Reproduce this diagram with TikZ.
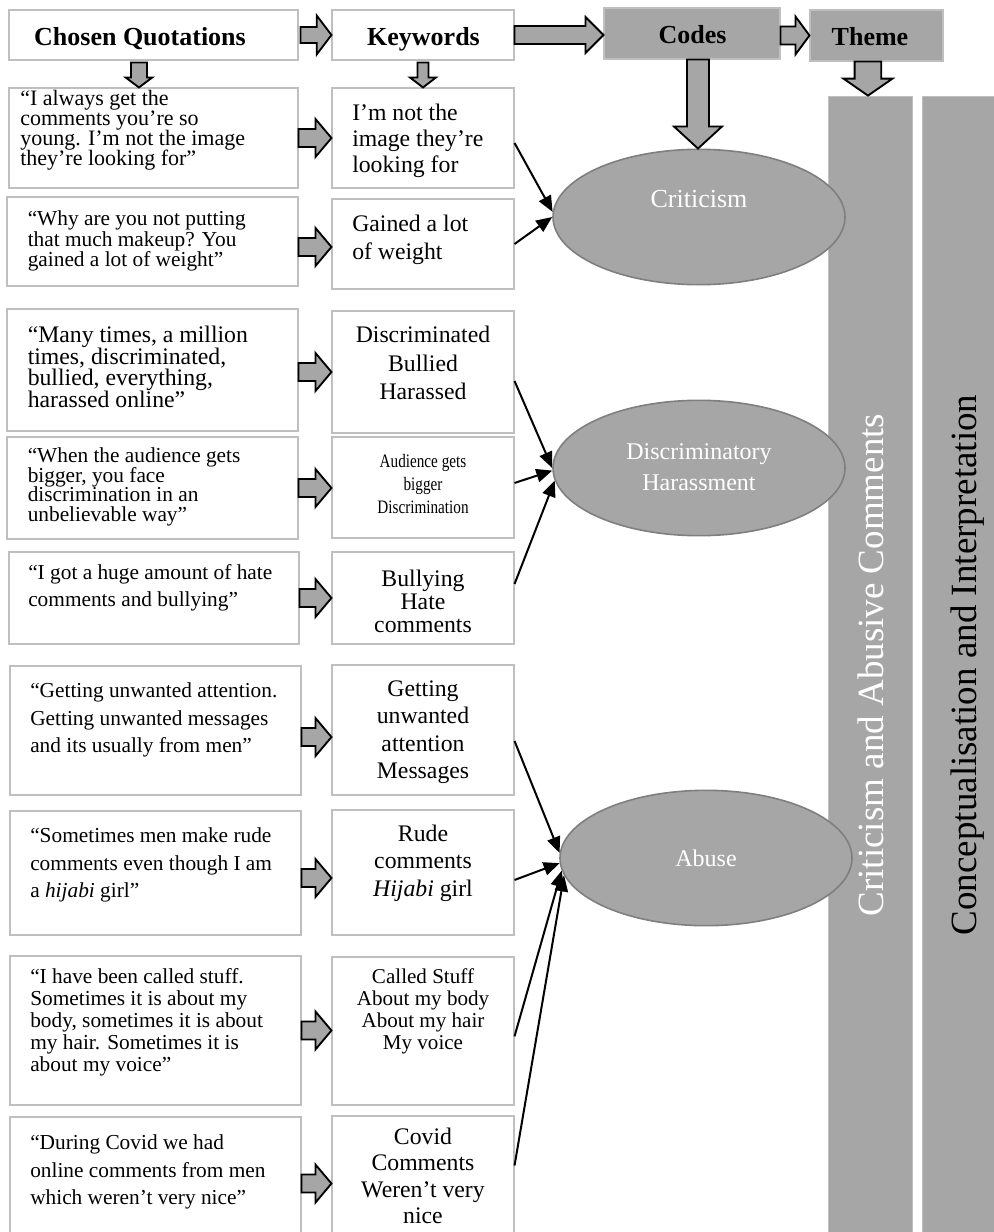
\documentclass[tikz,border=0pt]{standalone}
\usepackage{fontspec}
\usepackage{graphicx}
\setmainfont{Liberation Serif}
\usetikzlibrary{arrows.meta,shapes.geometric,fit,calc}

\definecolor{panel}{HTML}{A6A6A6}
\definecolor{boxline}{HTML}{BFBFBF}
\definecolor{ellline}{HTML}{7F7F7F}

% font size / baseline skip, allowing tight line spacing
\newcommand\txtsize[2]{\fontsize{#1pt}{#2pt}\selectfont\lineskiplimit=-100pt\relax}

% fat outlined arrow pointing right: start, target, half shaft, half head, head length
\newcommand\blockright[5]{%
  \draw[blockarrow] let \p1=#1, \p2=#2 in
    (\x1,\y1+#3) -- (\x2-#5,\y1+#3) -- (\x2-#5,\y1+#4) -- (\x2,\y1)
    -- (\x2-#5,\y1-#4) -- (\x2-#5,\y1-#3) -- (\x1,\y1-#3) -- cycle;}
% fat outlined arrow pointing down: start, target, half shaft, half head, head length
\newcommand\blockdown[5]{%
  \draw[blockarrow] let \p1=#1, \p2=#2 in
    (\x1-#3,\y1) -- (\x1-#3,\y2+#5) -- (\x1-#4,\y2+#5) -- (\x1,\y2)
    -- (\x1+#4,\y2+#5) -- (\x1+#3,\y2+#5) -- (\x1+#3,\y1) -- cycle;}

\begin{document}
\begin{tikzpicture}[x=0.75pt,y=-0.75pt,
  box/.style={draw=boxline,line width=0.8pt,fill=white,inner sep=0pt},
  graybox/.style={draw=boxline,line width=0.8pt,fill=panel,inner sep=0pt},
  bar/.style={draw=boxline,line width=0.6pt,fill=panel,inner sep=0pt},
  code/.style={ellipse,draw=ellline,line width=1.2pt,fill=panel,
    minimum width=219pt,minimum height=101.5pt,inner sep=0pt},
  blockarrow/.style={draw=black,line width=1.4pt,fill=panel,line join=miter},
  link/.style={line width=1.5pt,-{Triangle[length=12pt,width=10pt]}},
  head/.style={inner sep=0pt,anchor=base,font=\txtsize{19.5}{22}\bfseries},
  qt/.style={inner sep=0pt,anchor=west,align=left},
  ktl/.style={inner sep=0pt,anchor=west,align=left},
  kt/.style={inner sep=0pt,align=center},
  elltext/.style={inner sep=0pt,text=white,align=center},
  vtext/.style={inner sep=0pt,rotate=90,anchor=base,font=\txtsize{27.75}{30}}]

\useasboundingbox (0,0) rectangle (994,1232);
\clip (0,0) rectangle (994,1232);

% theme columns
\node[bar,fit={(828,96)(912,1245)}] (bar1) {};
\node[bar,fit={(922,96)(1006,1245)}] (bar2) {};

% header row
\node[box,fit={(9,10)(298,60)}] (qh) {};
\node[box,fit={(332,10)(514,60)}] (kh) {};
\node[graybox,fit={(604,8)(780,59)}] (codes) {};
\node[graybox,fit={(810,10)(943,61)}] (theme) {};
\node[head] (qht) at (140,45) {Chosen Quotations};
\node[head] (kht) at (423.5,45) {Keywords};
\node[head] (codest) at (692.5,43) {Codes};
\node[head] (themet) at (870,45) {Theme};

% quotation boxes
\node[box,fit={(9,88)(298,188)}] (q1) {};
\node[box,fit={(7,197)(298,286)}] (q2) {};
\node[box,fit={(7,309)(298,431)}] (q3) {};
\node[box,fit={(7,437)(298,539)}] (q4) {};
\node[box,fit={(9,552)(299,644)}] (q5) {};
\node[box,fit={(10,666)(301,795)}] (q6) {};
\node[box,fit={(10,811)(301,935)}] (q7) {};
\node[box,fit={(10,956)(301,1105)}] (q8) {};
\node[box,fit={(10,1117)(301,1245)}] (q9) {};

% keyword boxes
\node[box,fit={(332,88)(514,188)}] (k1) {};
\node[box,fit={(332,199)(514,289)}] (k2) {};
\node[box,fit={(332,311)(514,433)}] (k3) {};
\node[box,fit={(332,437)(514,538)}] (k4) {};
\node[box,fit={(332,552)(514,644)}] (k5) {};
\node[box,fit={(332,665)(514,795)}] (k6) {};
\node[box,fit={(332,810)(514,935)}] (k7) {};
\node[box,fit={(332,957)(514,1105)}] (k8) {};
\node[box,fit={(332,1116)(514,1245)}] (k9) {};

% quotation texts
\node[qt,font=\txtsize{16.5}{15}] (q1t) at (20,130) {“I always get the\\ comments you’re so\\ young. I’m not the image\\ they’re looking for”};
\node[qt,font=\txtsize{16}{15.5}] (q2t) at (27.5,241) {“Why are you not putting\\ that much makeup? You\\ gained a lot of weight”};
\node[qt,font=\txtsize{17.8}{16.3}] (q3t) at (27.5,367) {“Many times, a million\\ times, discriminated,\\ bullied, everything,\\ harassed online”};
\node[qt,font=\txtsize{16}{14.6}] (q4t) at (27.5,487) {“When the audience gets\\ bigger, you face\\ discrimination in an\\ unbelievable way”};
\node[qt,font=\txtsize{16}{20.6}] (q5t) at (28,588) {“I got a huge amount of hate\\ comments and bullying”};
\node[qt,font=\txtsize{16}{20.6}] (q6t) at (30,720) {“Getting unwanted attention.\\ Getting unwanted messages\\ and its usually from men”};
\node[qt,font=\txtsize{16}{20.6}] (q7t) at (30,865) {“Sometimes men make rude\\ comments even though I am\\ a \textit{hijabi} girl”};
\node[qt,font=\txtsize{16}{16.5}] (q8t) at (30,1022) {“I have been called stuff.\\ Sometimes it is about my\\ body, sometimes it is about\\ my hair. Sometimes it is\\ about my voice”};
\node[qt,font=\txtsize{16}{20.6}] (q9t) at (30,1172) {“During Covid we had\\ online comments from men\\ which weren’t very nice”};

% keyword texts
\node[ktl,font=\txtsize{17.8}{19.7}] (k1t) at (352,141) {I’m not the\\ image they’re\\ looking for};
\node[ktl,font=\txtsize{17.8}{21.4}] (k2t) at (352,240) {Gained a lot\\ of weight};
\node[kt,font=\txtsize{17.8}{21.3}] (k3t) at (423,363) {Discriminated\\ Bullied\\ Harassed};
\node[kt,font=\txtsize{14.25}{17.25}] (k4t) at (423,484) {\scalebox{0.8}[1]{Audience gets}\\ \scalebox{0.8}[1]{bigger}\\ \scalebox{0.8}[1]{Discrimination}};
\node[kt,font=\txtsize{17.8}{17.2}] (k5t) at (423,601) {Bullying\\ Hate\\ comments};
\node[kt,font=\txtsize{17.8}{20.6}] (k6t) at (423,732) {Getting\\ unwanted\\ attention\\ Messages};
\node[kt,font=\txtsize{17.8}{20.6}] (k7t) at (423,863) {Rude\\ comments\\ \textit{Hijabi} girl};
\node[kt,font=\txtsize{15.8}{16.5}] (k8t) at (423,1011) {Called Stuff\\ About my body\\ About my hair\\ My voice};
\node[kt,font=\txtsize{17.8}{19.9}] (k9t) at (423,1176) {Covid\\ Comments\\ Weren’t very\\ nice};

% code ellipses
\node[code] (crit) at (699,217) {};
\node[code] (disc) at (699,468) {};
\node[code] (abuse) at (706,858) {};
\node[elltext,anchor=base,font=\txtsize{19.5}{22}] (critt) at (699,207) {Criticism};
\node[elltext,font=\txtsize{18}{23.25}] (disct) at (699,467) {Discriminatory\\ Harassment};
\node[elltext,anchor=base,font=\txtsize{18}{22}] (abuset) at (706,866) {Abuse};

% column labels
\node[vtext,text=white] (bar1t) at (883,665) {Criticism and Abusive Comments};
\node[vtext,text=black] (bar2t) at (976,665) {Conceptualisation and Interpretation};

% header flow arrows
\blockright{([xshift=1.5pt]qh.east)}{(kh.west)}{6pt}{14.5pt}{11pt}
\blockright{(kh.east)}{(codes.west)}{6.75pt}{13.5pt}{13.5pt}
\blockright{([yshift=-1.5pt]codes.east)}{(theme.west)}{6.75pt}{14.25pt}{10.5pt}
\blockdown{([xshift=-10.9pt,yshift=-1.5pt]qh.south)}{(q1.north)}{6pt}{10pt}{7.5pt}
\blockdown{([yshift=-1.5pt]kh.south)}{(k1.north)}{4.1pt}{9.75pt}{7.5pt}
\blockdown{([xshift=4.5pt]codes.south)}{(crit.north)}{8.25pt}{18pt}{16.5pt}
\blockdown{([xshift=-6.4pt]theme.south)}{(bar1.north)}{10pt}{18.4pt}{12.75pt}

% quotation to keyword arrows
\blockright{(q1.east)}{(k1.west)}{6.75pt}{14.25pt}{12pt}
\blockright{([yshift=-4.1pt]q2.east)}{(k2.west)}{6.75pt}{14.25pt}{12pt}
\blockright{([yshift=-1.5pt]q3.east)}{(k3.west)}{6.75pt}{14.25pt}{12pt}
\blockright{(q4.east)}{(k4.west)}{6.75pt}{14.25pt}{12pt}
\blockright{(q5.east)}{(k5.west)}{6.75pt}{14.25pt}{12pt}
\blockright{([yshift=-4.9pt]q6.east)}{(k6.west)}{6.75pt}{14.25pt}{12pt}
\blockright{([yshift=-3.75pt]q7.east)}{(k7.west)}{6.75pt}{14.25pt}{12pt}
\blockright{(q8.east)}{(k8.west)}{6.75pt}{14.25pt}{12pt}
\blockright{([yshift=-1.9pt]q9.east)}{(k9.west)}{6.75pt}{14.25pt}{12pt}

% keyword to code links
\draw[link] ([yshift=-3.75pt]k1.east) -- (crit.178);
\draw[link] (k2.east) -- (crit.180);
\draw[link] ([yshift=-6.75pt]k3.east) -- (disc.180);
\draw[link] ([yshift=3.4pt]k4.east) -- (disc.181);
\draw[link] ([yshift=10.5pt]k5.east) -- (disc.185);
\draw[link] ([yshift=-8.25pt]k6.east) -- (abuse.178);
\draw[link] ([yshift=-5.6pt]k7.east) -- (abuse.182);
\draw[link] ([yshift=-4pt]k8.east) -- (abuse.185);
\draw[link] ([yshift=11.25pt]k9.east) -- (abuse.187);
\end{tikzpicture}
\end{document}
